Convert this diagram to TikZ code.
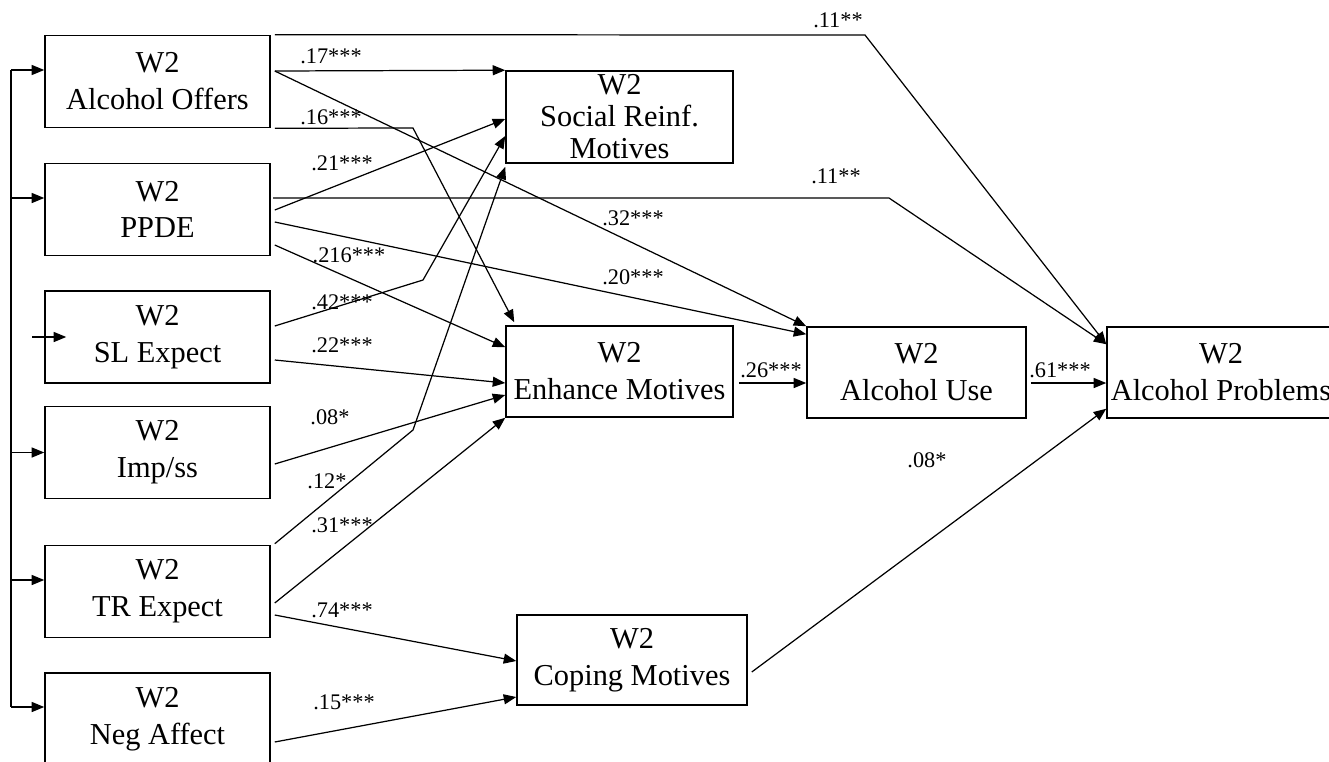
\documentclass[tikz,border=0pt]{standalone}
\usepackage{fontspec}
\setmainfont{Liberation Serif}
\usetikzlibrary{arrows.meta, calc}

\begin{document}
\begin{tikzpicture}[
	x=0.02cm, y=-0.02cm,
	var/.style={rectangle, draw, line width=0.9pt, align=center, inner sep=0pt, minimum width=4.5cm, minimum height=1.84cm, font=\fontsize{17.3}{21}\selectfont},
	effect/.style={line width=0.7pt, -{Triangle[length=0.25cm, width=0.2cm]}},
	plain/.style={line width=0.7pt},
	coef/.style={font=\fontsize{12.7}{14}\selectfont, inner sep=0pt}
	]
	\useasboundingbox (0,0) rectangle (1329,761);

	% Predictors
	\node[var] (off) at (157.5,81.5) {W2\\Alcohol Offers};
	\node[var] (ppde) at (157.5,209.5) {W2\\PPDE};
	\node[var] (sl) at (157.5,337) {W2\\SL Expect};
	\node[var] (imp) at (157.5,452.5) {W2\\Imp/ss};
	\node[var] (tr) at (157.5,591.5) {W2\\TR Expect};
	\node[var] (neg) at (157.5,719) {W2\\Neg Affect};

	% Motives and outcomes
	\node[var, minimum width=4.54cm, font=\fontsize{17.3}{18.2}\selectfont] (soc) at (619.5,117) {W2\\Social Reinf.\\Motives};
	\node[var, minimum width=4.54cm, minimum height=1.82cm] (enh) at (619.5,371.5) {W2\\Enhance Motives};
	\node[var, minimum width=4.6cm, minimum height=1.8cm] (cop) at (632,660) {W2\\Coping Motives};
	\node[var, minimum width=4.38cm, minimum height=1.82cm] (use) at (916.5,372.5) {W2\\Alcohol Use};
	\node[var, minimum width=4.56cm, minimum height=1.82cm] (prob) at (1221,372.5) {W2\\Alcohol Problems};

	% Correlations among predictors
	\coordinate (ctop) at (11,70);
	\coordinate (cbot) at (11,707);
	\coordinate (cfree) at (32,337);
	\draw[plain] (ctop) -- (cbot);
	\draw[effect] (ctop) -- ($(off.west)+(0,-11.5)$);
	\draw[effect] ($(ppde.west)+(-34,-11.5)$) -- ($(ppde.west)+(0,-11.5)$);
	\draw[effect] (cfree) -- ($(sl.west)+(22,0)$);
	\draw[effect] ($(imp.west)+(-34,0)$) -- (imp.west);
	\draw[effect] ($(tr.west)+(-34,-11.5)$) -- ($(tr.west)+(0,-11.5)$);
	\draw[effect] (cbot) -- ($(neg.west)+(0,-12)$);

	% Bends
	\coordinate (bend1) at (865,35);
	\coordinate (bend2) at (413,128);
	\coordinate (bend3) at (889,198);
	\coordinate (bend4) at (423,280);
	\coordinate (bend5) at (413,430);

	% Paths from Alcohol Offers
	\draw[effect] ($(off.north east)+(4,0)$) -- (bend1) -- ($(prob.north west)+(0,18)$);
	\draw[effect] ($(off.east)+(4,-10.5)$) -- (soc.north west);
	\draw[effect] ($(off.east)+(4,-10.5)$) -- (use.north west);
	\draw[effect] ($(off.south east)+(4,0)$) -- (bend2) -- ($(enh.north west)+(9,-3)$);

	% Paths from PPDE
	\draw[effect] ($(ppde.west)+(229,-11.5)$) -- (bend3) -- ($(prob.north west)+(0,18)$);
	\draw[effect] ($(ppde.east)+(4,0.5)$) -- ($(soc.west)+(0,2)$);
	\draw[effect] ($(ppde.east)+(4,12.5)$) -- ($(use.north west)+(0,8)$);
	\draw[effect] ($(ppde.east)+(4,35.5)$) -- ($(enh.north west)+(0,22)$);

	% Paths from SL Expect and Imp/ss
	\draw[effect] ($(sl.east)+(4,-11)$) -- (bend4) -- ($(soc.west)+(0,19)$);
	\draw[effect] ($(sl.east)+(4,23)$) -- ($(enh.west)+(0,11.5)$);
	\draw[effect] ($(imp.east)+(4,11.5)$) -- ($(enh.west)+(0,23.5)$);

	% Paths from TR Expect and Neg Affect
	\draw[effect] ($(tr.north east)+(4,-1)$) -- (bend5) -- ($(soc.south west)+(0,3)$);
	\draw[effect] ($(tr.east)+(4,11.5)$) -- (enh.south west);
	\draw[effect] ($(tr.east)+(4,23.5)$) -- ($(cop.west)+(0,1)$);
	\draw[effect] ($(neg.east)+(4,23)$) -- ($(cop.west)+(0,37)$);

	% Paths to outcomes
	\draw[effect] ($(enh.east)+(5,11.5)$) -- ($(use.west)+(0,10.5)$);
	\draw[effect] ($(use.east)+(4,10.5)$) -- ($(prob.west)+(0,10.5)$);
	\draw[effect] ($(cop.east)+(4,12)$) -- ($(prob.south west)+(0,-10)$);

	% Coefficients
	\node[coef] (c1) at (838,20) {.11**};
	\node[coef] (c2) at (331,56) {.17***};
	\node[coef] (c3) at (331,117) {.16***};
	\node[coef] (c4) at (342,163) {.21***};
	\node[coef] (c5) at (836,176) {.11**};
	\node[coef] (c6) at (633,218) {.32***};
	\node[coef] (c7) at (349,255) {.216***};
	\node[coef] (c8) at (633,277) {.20***};
	\node[coef] (c9) at (342,302) {.42***};
	\node[coef] (c10) at (342,345) {.22***};
	\node[coef] (c11) at (330,417) {.08*};
	\node[coef] (c12) at (327,481) {.12*};
	\node[coef] (c13) at (342,525) {.31***};
	\node[coef] (c14) at (342,610) {.74***};
	\node[coef] (c15) at (344,702) {.15***};
	\node[coef] (c16) at (771,370) {.26***};
	\node[coef] (c17) at (1060,370) {.61***};
	\node[coef] (c18) at (927,460) {.08*};
\end{tikzpicture}
\end{document}
